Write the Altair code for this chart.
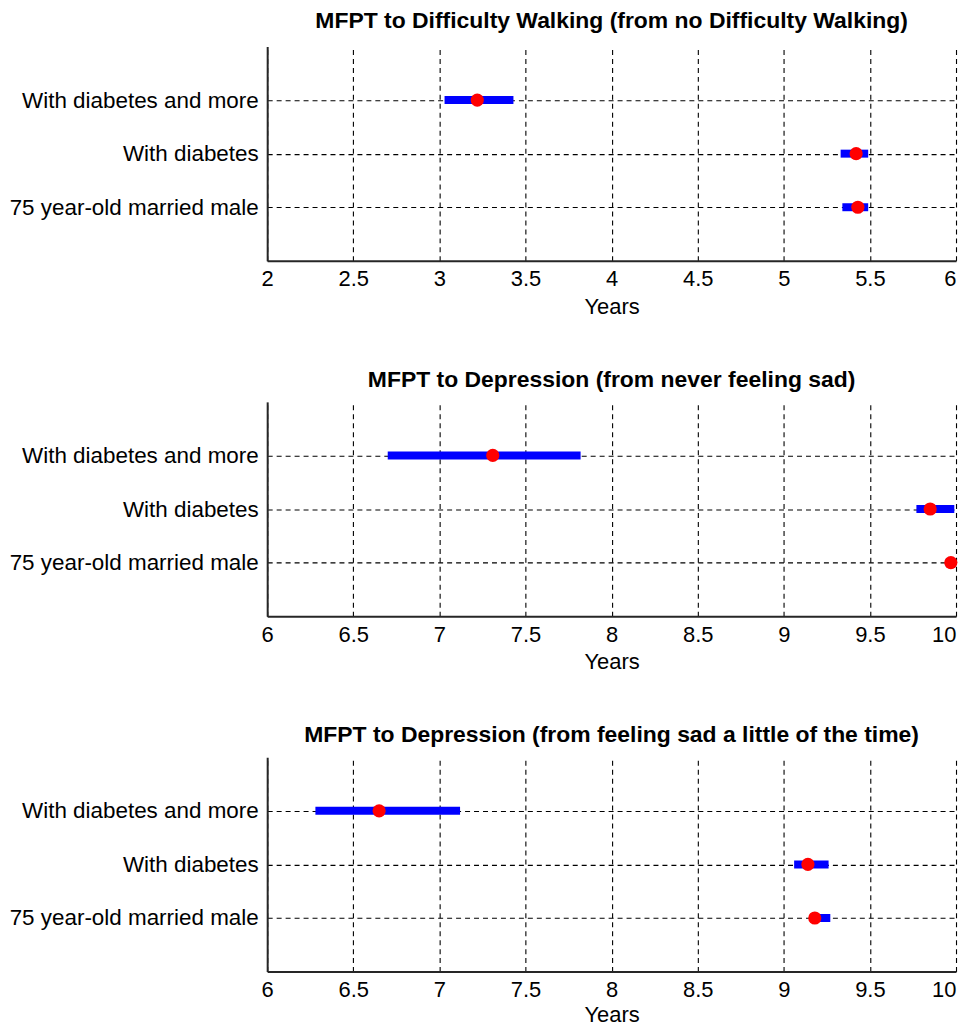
import altair as alt
import pandas as pd

FONT = "Liberation Sans"

categories = ["With diabetes and more", "With diabetes", "75 year-old married male"]

titles = [
    "MFPT to Difficulty Walking (from no Difficulty Walking)",
    "MFPT to Depression (from never feeling sad)",
    "MFPT to Depression (from feeling sad a little of the time)",
]

x_domains = [[2, 6], [6, 10], [6, 10]]
x_ticks = [
    [2, 2.5, 3, 3.5, 4, 4.5, 5, 5.5, 6],
    [6, 6.5, 7, 7.5, 8, 8.5, 9, 9.5, 10],
    [6, 6.5, 7, 7.5, 8, 8.5, 9, 9.5, 10],
]

# panel 1: difficulty walking
p1_mean = [3.22, 5.42, 5.43]
p1_low = [3.03, 5.33, 5.34]
p1_high = [3.43, 5.49, 5.49]

# panel 2: depression from never feeling sad
p2_mean = [7.31, 9.85, 9.97]
p2_low = [6.70, 9.77, 9.94]
p2_high = [7.82, 9.99, 10.0]

# panel 3: depression from feeling sad a little of the time
p3_mean = [6.65, 9.14, 9.18]
p3_low = [6.28, 9.06, 9.20]
p3_high = [7.12, 9.26, 9.27]

means = [p1_mean, p2_mean, p3_mean]
lows = [p1_low, p2_low, p3_low]
highs = [p1_high, p2_high, p3_high]

title_offsets = [14, 10, 10]
years_padding = [6.5, 6.5, 4.5]


def panel(i):
    df = pd.DataFrame({
        "cat": categories,
        "mean": means[i],
        "low": lows[i],
        "high": highs[i],
    })
    xmax = x_domains[i][1]
    xscale = alt.Scale(domain=x_domains[i], nice=False, zero=False)
    yscale = alt.Scale(type="point", domain=categories, padding=1)
    xaxis = alt.Axis(
        values=x_ticks[i], title="Years", grid=True, ticks=False, format="~g",
        labelPadding=8, titlePadding=years_padding[i], labelFlush=False,
        labelAlign={"condition": {"test": f"datum.value >= {xmax}", "value": "right"},
                    "value": "center"},
    )
    yaxis = alt.Axis(title=None, grid=True, ticks=False, labelPadding=9,
                     labelLimit=0, minExtent=259, maxExtent=259)
    base = alt.Chart(df)
    bars = base.mark_rule(color="#0000FF", strokeWidth=8, strokeCap="butt").encode(
        x=alt.X("low:Q", scale=xscale, axis=xaxis),
        x2="high:Q",
        y=alt.Y("cat:N", scale=yscale, axis=yaxis, sort=categories),
    )
    dots = base.mark_circle(color="#FF0000", size=175, opacity=1).encode(
        x=alt.X("mean:Q", scale=xscale),
        y=alt.Y("cat:N", scale=yscale, sort=categories),
    )
    return alt.layer(bars, dots).properties(
        width=691, height=215,
        title=alt.TitleParams(titles[i], fontSize=23, fontWeight="bold", font=FONT,
                              color="#000000", anchor="middle", frame="group",
                              offset=title_offsets[i]),
    )


chart = alt.vconcat(panel(0), panel(1), panel(2), spacing=51.5).properties(
    padding=0
).configure_axis(
    labelFont=FONT, titleFont=FONT, labelFontSize=22, titleFontSize=22,
    labelColor="#000000", titleColor="#000000", titleFontWeight="normal",
    domainColor="#262626", domainWidth=2,
    gridColor="#000000", gridDash=[5, 4], gridWidth=1.1, gridOpacity=1,
).configure_axisY(labelFontSize=22.5).configure_view(strokeWidth=0)

chart.save("out.html", embed_options={"renderer": "svg", "actions": False})
